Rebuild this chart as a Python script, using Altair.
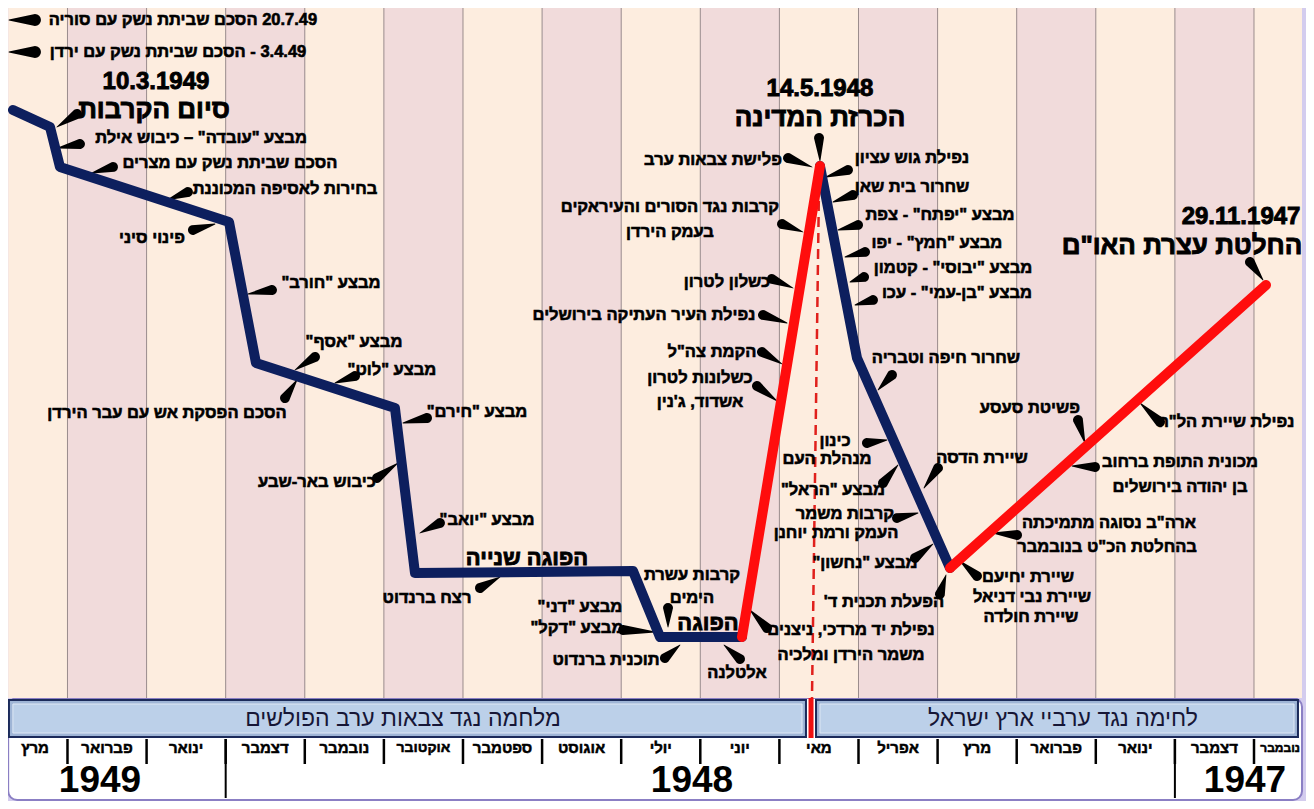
import altair as alt
import pandas as pd

# ---------------- data ----------------
# months, right (Nov 1947) to left (Mar 1949); t = months since 1 Nov 1947
month_names = ["נובמבר", "דצמבר", "ינואר", "פברואר", "מרץ", "אפריל", "מאי", "יוני", "יולי",
               "אוגוסט", "ספטמבר", "אוקטובר", "נובמבר", "דצמבר", "ינואר", "פברואר", "מרץ"]
month_start = [0, 1, 2, 3, 4, 5, 6, 7, 8, 9, 10, 11, 12, 13, 14, 15, 16]
month_label_t = [0.67, 1.5, 2.5, 3.5, 4.5, 5.5, 6.5, 7.5, 8.5, 9.5, 10.5, 11.5, 12.5, 13.5, 14.5, 15.5, 16.41]
month_label_size = [12, 15, 15, 15, 15, 15, 15, 15, 15, 15, 15, 14, 15, 15, 15, 15, 15]
grid_t = [1, 2, 3, 4, 5, 6, 7, 8, 9, 10, 11, 12, 13, 14, 15, 16]
year_sep_t = [2, 14]
years = ["1949", "1948", "1947"]
year_t = [15.589, 8.105, 1.114]

plot_left_t = 16.75
plot_right_t = 0.393
plot_top_y = 69.0

# course of the war (level units)
blue1_t = [16.689, 16.221, 16.095, 13.958, 13.617, 11.860, 11.607, 8.851, 8.509, 7.473]
blue1_y = [58.8, 57.1, 53.1, 47.6, 33.5, 29.0, 12.5, 12.7, 6.1, 6.1]
red1_t = [7.473, 6.487]
red1_y = [6.1, 53.2]
blue2_t = [6.487, 6.019, 4.843]
blue2_y = [53.2, 34.0, 13.0]
red2_t = [4.843, 0.848]
red2_y = [13.0, 41.3]

# independence-day dashed marker
dash_t = [6.499, 6.588]
dash_y = [51.3, 0.0]
bar_t = 6.600

# regular labels
label_text = [
    "20.7.49 הסכם שביתת נשק עם סוריה", "3.4.49 - הסכם שביתת נשק עם ירדן",
    'מבצע "עובדה" – כיבוש אילת', "הסכם שביתת נשק עם מצרים", "בחירות לאסיפה המכוננת",
    "פינוי סיני", 'מבצע "חורב"', 'מבצע "אסף"', 'מבצע "לוט"', "הסכם הפסקת אש עם עבר הירדן",
    'מבצע "חירם"', "כיבוש באר-שבע", 'מבצע "יואב"', "רצח ברנדוט", 'מבצע "דני"', 'מבצע "דקל"',
    "קרבות עשרת", "הימים", "תוכנית ברנדוט", "אלטלנה", "נפילת יד מרדכי, ניצנים", "משמר הירדן ומלכיה",
    "נפילת גוש עציון", "שחרור בית שאן", 'מבצע "יפתח" - צפת', 'מבצע "חמץ" - יפו',
    'מבצע "יבוסי" - קטמון', 'מבצע "בן-עמי" - עכו', "שחרור חיפה וטבריה", "פשיטת סעסע",
    'נפילת שיירת הל"ה', "שיירת הדסה", "מכונית התופת ברחוב", "בן יהודה בירושלים",
    'ארה"ב נסוגה מתמיכתה', 'בהחלטת הכ"ט בנובמבר', "שיירת יחיעם", "שיירת נבי דניאל", "שיירת חולדה",
    "הפעלת תכנית ד'", 'מבצע "נחשון"', "קרבות משמר", "העמק ורמת יוחנן", 'מבצע "הראל"',
    "כינון", "מנהלת העם", "פלישת צבאות ערב", "קרבות נגד הסורים והעיראקים", "בעמק הירדן",
    "כשלון לטרון", "נפילת העיר העתיקה בירושלים", 'הקמת צה"ל', "כשלונות לטרון", "אשדוד, ג'נין",
]
label_t = [
    14.540, 14.603, 14.312, 13.946, 13.250, 14.932, 12.669, 12.378, 11.898, 14.742,
    10.823, 12.846, 10.697, 11.455, 9.521, 9.559, 8.105, 8.105, 9.192, 7.536, 6.095, 6.095,
    5.324, 5.324, 4.970, 5.008, 4.805, 4.755, 4.894, 3.832, 1.354, 4.439, 1.936, 1.936,
    2.833, 2.858, 3.857, 3.807, 3.820, 5.678, 5.918, 6.171, 6.284, 6.322, 6.297, 6.398,
    7.839, 8.383, 8.383, 7.662, 8.712, 7.852, 8.004, 8.004,
]
label_y = [
    67.8, 64.6, 56.0, 53.5, 50.9, 46.0, 41.5, 35.6, 32.8, 28.5,
    28.6, 21.6, 17.8, 10.0, 9.1, 7.0, 12.3, 10.0, 3.8, 2.5, 6.8, 4.3,
    54.0, 51.1, 48.3, 45.5, 43.0, 40.5, 34.0, 29.0, 27.6, 24.0, 23.6, 21.1,
    17.5, 15.1, 12.1, 10.1, 8.1, 9.6, 13.5, 18.4, 16.5, 20.8, 25.7, 23.9,
    53.8, 49.1, 46.6, 41.6, 38.3, 34.6, 32.0, 29.6,
]

# headline labels
title_text = ["10.3.1949", "סיום הקרבות", "14.5.1948", "הכרזת המדינה", "29.11.1947",
              'החלטת עצרת האו"ם', "הפוגה שנייה", "הפוגה"]
title_t = [14.881, 14.906, 6.487, 6.487, 1.164, 1.910, 10.191, 7.903]
title_y = [61.6, 58.8, 60.9, 58.0, 48.1, 45.2, 14.0, 7.5]
title_size = [24, 26, 24, 26, 24, 26, 22, 22]

# period banners
banner_text = ["מלחמה נגד צבאות ערב הפולשים", "לחימה נגד ערביי ארץ ישראל"]
banner_text_t = [11.759, 3.415]
banner_t0 = [16.74, 6.537]
banner_t1 = [6.664, 0.444]

# callout wedges: base (near text) -> tip (at the line)
call_base_t = [16.411, 16.411, 15.880, 15.842, 15.425, 14.477, 14.414, 13.415, 12.871, 12.365,
               13.250, 11.455, 12.087, 11.291, 10.785, 8.976, 8.408, 8.447, 7.498, 7.157,
               6.133, 6.070, 6.006, 5.918, 5.930, 5.817, 5.577, 1.051, 3.225, 2.188,
               4.995, 3.010, 3.996, 4.502, 4.970, 5.286, 5.513, 5.690, 5.893, 6.499,
               6.891, 6.967, 7.094, 7.207, 7.220, 7.283]
call_base_y = [67.8, 64.6, 58.4, 55.4, 53.1, 50.6, 46.8, 40.8, 34.1, 32.2,
               30.0, 28.0, 22.0, 17.5, 11.0, 6.8, 9.0, 4.0, 3.9, 7.0,
               52.8, 50.3, 47.3, 44.6, 42.1, 39.8, 32.3, 43.6, 27.8, 27.6,
               23.0, 23.1, 16.3, 12.2, 10.4, 14.0, 18.0, 21.5, 25.5, 56.0,
               54.0, 47.4, 41.9, 38.3, 34.6, 31.2]
call_tip_t = [16.740, 16.740, 16.133, 16.120, 15.690, 14.742, 14.135, 13.718, 13.124, 12.618,
              13.099, 11.759, 11.822, 11.544, 10.532, 8.573, 8.408, 8.257, 7.700, 7.372,
              6.411, 6.322, 6.259, 6.171, 6.107, 6.044, 5.753, 0.886, 3.137, 2.441,
              5.172, 3.301, 4.300, 4.717, 4.894, 5.058, 5.248, 5.501, 5.640, 6.487,
              6.588, 6.702, 6.828, 6.904, 6.967, 7.030]
call_tip_y = [67.8, 64.6, 57.1, 55.0, 52.5, 49.8, 47.4, 40.4, 32.8, 31.5,
              31.8, 27.5, 23.5, 16.5, 12.1, 6.6, 7.1, 5.3, 5.3, 8.8,
              52.1, 49.6, 46.8, 44.1, 41.6, 39.3, 30.8, 41.8, 25.5, 29.5,
              21.0, 23.2, 16.5, 13.7, 12.3, 15.4, 18.5, 23.3, 25.8, 53.7,
              53.1, 46.6, 41.0, 37.5, 33.4, 29.7]

# ---------------- styling ----------------
FONT = "Liberation Sans"
PEACH, PINK = "#fdeddf", "#f1dbdb"
NAVY, RED = "#0d1f5e", "#ff0d0d"
LAVENDER = "#d3ccee"


def rtl(s):
    return "\u202b" + s + "\u202c"


xs = alt.Scale(domain=[0.3426, 16.752], reverse=True, nice=False, zero=False)
ys = alt.Scale(domain=[-10.3, 69.0], nice=False, zero=False)


def X(f):
    return alt.X(f, scale=xs, axis=None)


def Y(f):
    return alt.Y(f, scale=ys, axis=None)


# ---------------- tables ----------------
stripes = pd.DataFrame({
    "t0": [max(s, plot_right_t) for s in month_start],
    "t1": [min(s + 1, plot_left_t) for s in month_start],
    "fill": [PEACH if i % 2 == 0 else PINK for i in range(len(month_start))],
})
stripes["y0"] = 0.0
stripes["y1"] = plot_top_y

bottom_area = pd.DataFrame({"t0": [plot_left_t], "t1": [plot_right_t], "y0": [0.0], "y1": [-10.2]})

grid = pd.DataFrame({"t": grid_t, "y0": 0.0, "y1": plot_top_y})
msep = pd.DataFrame({"t": grid_t, "y0": -4.1, "y1": -6.6})
ysep = pd.DataFrame({"t": year_sep_t, "y0": -4.1, "y1": -10.0})

banners = pd.DataFrame({"t0": banner_t0, "t1": banner_t1, "y0": -0.2, "y1": -3.9})
banners_in = pd.DataFrame({"t0": [banner_t0[0] - 0.05, banner_t0[1] - 0.05],
                           "t1": [banner_t1[0] + 0.05, banner_t1[1] + 0.05],
                           "y0": -0.6, "y1": -3.5})
banner_lab = pd.DataFrame({"t": banner_text_t, "y": -2.1, "label": [rtl(s) for s in banner_text]})

dash = pd.DataFrame({"t0": [dash_t[0]], "t1": [dash_t[1]], "y0": [dash_y[0]], "y1": [dash_y[1]]})
bar = pd.DataFrame({"t": [bar_t], "y0": [0.0], "y1": [-4.0]})

rows = []
for seg, (tt, yy) in enumerate([(blue1_t, blue1_y), (blue2_t, blue2_y)]):
    for i, (a, b) in enumerate(zip(tt, yy)):
        rows.append({"seg": seg, "ord": i, "t": a, "y": b})
blue = pd.DataFrame(rows)
rows = []
for seg, (tt, yy) in enumerate([(red1_t, red1_y), (red2_t, red2_y)]):
    for i, (a, b) in enumerate(zip(tt, yy)):
        rows.append({"seg": seg, "ord": i, "t": a, "y": b})
red = pd.DataFrame(rows)

rows = []
for i in range(len(call_base_t)):
    w = 12 if i < 2 else 10
    rows.append({"id": i, "ord": 0, "t": call_base_t[i], "y": call_base_y[i], "w": w})
    rows.append({"id": i, "ord": 1, "t": call_tip_t[i], "y": call_tip_y[i], "w": 0.8})
calls = pd.DataFrame(rows)

labels = pd.DataFrame({"t": label_t, "y": label_y, "label": [rtl(s) for s in label_text]})
titles = pd.DataFrame({"t": title_t, "y": title_y, "fs": title_size, "label": [rtl(s) for s in title_text]})
mlabels = pd.DataFrame({"t": month_label_t, "y": -5.0, "fs": month_label_size,
                        "label": [rtl(s) for s in month_names]})
ylabels = pd.DataFrame({"t": year_t, "y": -8.3, "label": years})

# ---------------- layers ----------------
rect_enc = dict(x=X("t0:Q"), x2="t1:Q", y=Y("y0:Q"), y2="y1:Q")

l_bottom = alt.Chart(bottom_area).mark_rect(fill="white", stroke="#8b7fc4", strokeWidth=2,
                                            cornerRadius=9).encode(**rect_enc)
l_stripes = alt.Chart(stripes).mark_rect().encode(**rect_enc, color=alt.Color("fill:N", scale=None))
l_grid = alt.Chart(grid).mark_rule(color="#9a8c8c", strokeWidth=1).encode(
    x=X("t:Q"), y=Y("y0:Q"), y2="y1:Q")
l_banner = alt.Chart(banners).mark_rect(fill="#9fb5d6", stroke="#1b2a5a", strokeWidth=2).encode(**rect_enc)
l_banner_in = alt.Chart(banners_in).mark_rect(fill="#bcd0e9", stroke="#dfe8f5", strokeWidth=1).encode(**rect_enc)
l_banner_txt = alt.Chart(banner_lab).mark_text(font=FONT, fontSize=23, color="#161636", align="center",
                                               baseline="middle").encode(x=X("t:Q"), y=Y("y:Q"), text="label:N")
l_msep = alt.Chart(msep).mark_rule(color="black", strokeWidth=2.5).encode(x=X("t:Q"), y=Y("y0:Q"), y2="y1:Q")
l_ysep = alt.Chart(ysep).mark_rule(color="black", strokeWidth=2).encode(x=X("t:Q"), y=Y("y0:Q"), y2="y1:Q")
l_mlab = alt.Chart(mlabels).mark_text(font=FONT, fontWeight="bold", color="black", stroke="black",
                                      strokeWidth=0.5, align="center", baseline="middle").encode(
    x=X("t:Q"), y=Y("y:Q"), text="label:N", size=alt.Size("fs:Q", scale=None))
l_ylab = alt.Chart(ylabels).mark_text(font=FONT, fontWeight="bold", fontSize=37, color="black",
                                      align="center", baseline="middle").encode(
    x=X("t:Q"), y=Y("y:Q"), text="label:N")
l_dash = alt.Chart(dash).mark_rule(color="#e0201c", strokeWidth=2.5, strokeDash=[10, 6]).encode(
    x=X("t0:Q"), x2="t1:Q", y=Y("y0:Q"), y2="y1:Q")
l_bar = alt.Chart(bar).mark_rule(color="#ee1111", strokeWidth=5).encode(x=X("t:Q"), y=Y("y0:Q"), y2="y1:Q")
l_labels = alt.Chart(labels).mark_text(font=FONT, fontWeight="bold", fontSize=16.5, color="black",
                                       stroke="black", strokeWidth=0.6,
                                       align="center", baseline="middle").encode(
    x=X("t:Q"), y=Y("y:Q"), text="label:N")
l_titles = alt.Chart(titles).mark_text(font=FONT, fontWeight="bold", color="black", stroke="black",
                                       strokeWidth=0.9, align="center", baseline="middle").encode(
    x=X("t:Q"), y=Y("y:Q"), text="label:N", size=alt.Size("fs:Q", scale=None))
l_calls = alt.Chart(calls).mark_trail(color="black").encode(
    x=X("t:Q"), y=Y("y:Q"), size=alt.Size("w:Q", scale=None), detail="id:N", order="ord:Q")
l_blue = alt.Chart(blue).mark_line(color=NAVY, strokeWidth=10, strokeCap="round", strokeJoin="round").encode(
    x=X("t:Q"), y=Y("y:Q"), detail="seg:N", order="ord:Q")
l_red = alt.Chart(red).mark_line(color=RED, strokeWidth=10, strokeCap="round", strokeJoin="round").encode(
    x=X("t:Q"), y=Y("y:Q"), detail="seg:N", order="ord:Q")

chart = alt.layer(
    l_bottom, l_stripes, l_grid, l_banner, l_banner_in, l_banner_txt, l_msep, l_ysep, l_mlab, l_ylab,
    l_dash, l_bar, l_labels, l_titles, l_calls, l_blue, l_red,
).properties(
    width=1298, height=793, padding=0, autosize=alt.AutoSizeParams(type="none"), background=LAVENDER,
).configure_view(stroke=None)

chart.save("out.html", embed_options={"renderer": "svg", "actions": False})
